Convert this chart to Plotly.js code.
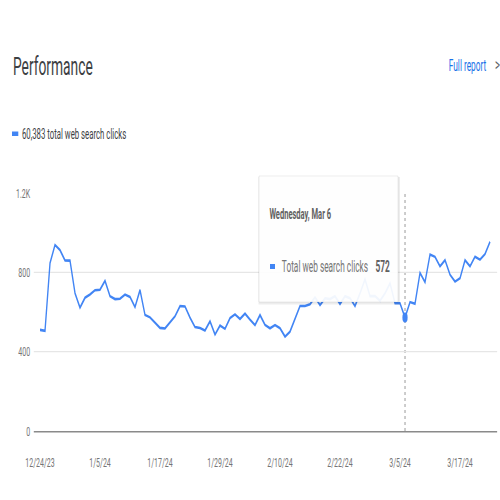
<!DOCTYPE html>
<html>
<head>
<meta charset="utf-8">
<script src="https://cdn.plot.ly/plotly-3.0.1.min.js"></script>
<style>
  html, body { margin: 0; padding: 0; overflow: hidden; background: #ffffff; width: 500px; height: 500px; }
  #chart { width: 962px; height: 500px; transform: scaleX(0.52); transform-origin: 0 0; }
</style>
</head>
<body>
<div id="chart"></div>
<script>
// ---- data ----
const startDate = '2023-12-24';
const clicks = [
  510, 505, 846, 938, 912, 860, 859, 695, 622, 672,
  688, 710, 712, 757, 680, 665, 667, 688, 676, 625,
  711, 585, 573, 545, 520, 517, 548, 578, 630, 628,
  572, 524, 519, 507, 553, 486, 532, 515, 569, 588,
  565, 592, 562, 534, 585, 535, 518, 534, 518, 476,
  501, 568, 630, 630, 639, 674, 635, 669, 665, 680,
  640, 680, 670, 630, 694, 765, 680, 680, 657, 694,
  745, 644, 644, 572, 650, 642, 797, 750, 890, 878,
  830, 862, 788, 753, 770, 862, 830, 879, 864, 892,
  954
];
const xTickVals = ['2023-12-24','2024-01-05','2024-01-17','2024-01-29','2024-02-10','2024-02-22','2024-03-05','2024-03-17'];
const xTickText = ['12/24/23','1/5/24','1/17/24','1/29/24','2/10/24','2/22/24','3/5/24','3/17/24'];
const yTickVals = [0, 400, 800, 1200];
const yTickText = ['0', '400', '800', '1.2K'];
const highlightDate = '2024-03-06';
const highlightLabel = 'Wednesday, Mar 6';
const seriesName = 'Total web search clicks';
const totalLabel = '60,383 total web search clicks';

// daily dates
const dates = [];
{
  const p = startDate.split('-').map(Number);
  const t0 = Date.UTC(p[0], p[1]-1, p[2]);
  for (let i = 0; i < clicks.length; i++) {
    dates.push(new Date(t0 + i*86400000).toISOString().slice(0,10));
  }
}
const hiIdx = dates.indexOf(highlightDate);

// ---- layout helpers (original 500px picture coords -> paper) ----
const S = 0.52, W = 962, H = 500;
const M = {l: 65, r: 6, t: 193, b: 69};
const PW = W - M.l - M.r, PH = H - M.t - M.b;
const px = ox => (ox / S - M.l) / PW;
const py = oy => (H - M.b - oy) / PH;

const blue = '#4285f4';
const font = 'Roboto, "Noto Sans", sans-serif';

const traces = [
  {x: dates, y: clicks, type: 'scatter', mode: 'lines',
   line: {color: blue, width: 2.6}, hoverinfo: 'skip'},
  {x: [dates[hiIdx]], y: [clicks[hiIdx]], type: 'scatter', mode: 'markers',
   marker: {color: blue, size: 10}, hoverinfo: 'skip'}
];

function rect(ox0, oy0, ox1, oy1, fill, line, layer) {
  return {type: 'rect', xref: 'paper', yref: 'paper', x0: px(ox0), x1: px(ox1), y0: py(oy1), y1: py(oy0),
          fillcolor: fill, line: line || {width: 0}, layer: layer || 'above'};
}

const layout = {
  width: W, height: H,
  margin: M,
  paper_bgcolor: '#ffffff', plot_bgcolor: '#ffffff',
  showlegend: false,
  font: {family: font, color: '#757575', size: 13},
  xaxis: {
    type: 'date',
    range: ['2023-12-22 18:14', '2024-03-24 10:05'],
    tickmode: 'array', tickvals: xTickVals, ticktext: xTickText,
    showgrid: false, zeroline: false,
    showline: true, linecolor: '#8a8a8a', linewidth: 1.6,
    ticks: '', ticklabelstandoff: 18,
    tickfont: {family: font, size: 13.5, color: '#757575'}
  },
  yaxis: {
    range: [0, 1200],
    tickmode: 'array', tickvals: yTickVals, ticktext: yTickText,
    showgrid: true, gridcolor: '#e6e6e6', gridwidth: 1.2,
    zeroline: false, showline: false,
    ticks: '', ticklabelstandoff: 6,
    tickfont: {family: font, size: 13.5, color: '#757575'}
  },
  shapes: [
    {type: 'line', xref: 'x', yref: 'paper', x0: highlightDate, x1: highlightDate, y0: 0, y1: 1,
     line: {color: '#9e9e9e', width: 2, dash: 'dot'}, layer: 'below'},
    // legend swatch
    rect(12, 131.5, 18.3, 136, blue),
    // tooltip shadow + box
    rect(258.5, 177, 400, 304.5, 'rgba(0,0,0,0.07)'),
    rect(259, 176, 398, 302, 'rgba(255,255,255,0.93)', {color: 'rgba(0,0,0,0.10)', width: 1}),
    rect(270, 264, 275, 269, blue)
  ],
  annotations: [
    {xref: 'paper', yref: 'paper', x: px(12), y: py(66), xanchor: 'left', yanchor: 'middle',
     text: 'Performance', showarrow: false, font: {family: font, size: 26.5, color: '#3c4043'}},
    {xref: 'paper', yref: 'paper', x: px(447.5), y: py(66), xanchor: 'left', yanchor: 'middle',
     text: 'Full report', showarrow: false, font: {family: font, size: 16, color: '#1a73e8'}},
    {xref: 'paper', yref: 'paper', x: px(494), y: py(65), xanchor: 'left', yanchor: 'middle',
     text: '>', showarrow: false, font: {family: font, size: 18, color: '#5f6368'}},
    {xref: 'paper', yref: 'paper', x: px(21), y: py(134), xanchor: 'left', yanchor: 'middle',
     text: totalLabel, showarrow: false, font: {family: font, size: 15, color: '#3c4043'}},
    {xref: 'paper', yref: 'paper', x: px(268.5), y: py(214.5), xanchor: 'left', yanchor: 'middle',
     text: '<b>' + highlightLabel + '</b>', showarrow: false, font: {family: font, size: 14.5, color: '#616161'}},
    {xref: 'paper', yref: 'paper', x: px(281), y: py(266.5), xanchor: 'left', yanchor: 'middle',
     text: seriesName, showarrow: false, font: {family: font, size: 16, color: '#757575'}},
    {xref: 'paper', yref: 'paper', x: px(374.5), y: py(266.5), xanchor: 'left', yanchor: 'middle',
     text: '<b>' + clicks[hiIdx] + '</b>', showarrow: false, font: {family: font, size: 16, color: '#616161'}}
  ]
};

Plotly.newPlot('chart', traces, layout, {staticPlot: true, displayModeBar: false});
</script>
</body>
</html>
